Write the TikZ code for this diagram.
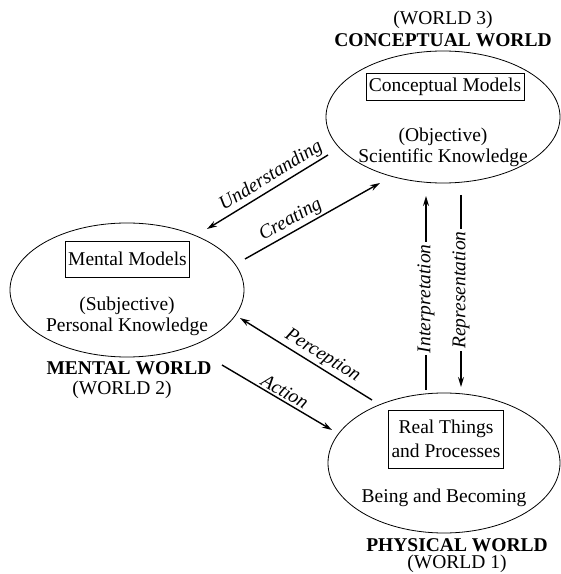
\documentclass[tikz,border=0pt]{standalone}
\usepackage{fontspec}
\setmainfont{Liberation Serif}
\usetikzlibrary{shapes.geometric,arrows.meta}
\begin{document}
\begin{tikzpicture}[x=1pt,y=1pt,
  every node/.style={font=\fontsize{19.5}{21}\selectfont},
  world/.style={draw,ellipse,line width=0.8pt,inner sep=0pt},
  modelbox/.style={draw,line width=0.7pt,inner xsep=3pt,inner ysep=3pt,align=center},
  plain/.style={align=center,inner sep=0pt},
  title/.style={font=\fontsize{19.5}{21}\selectfont\bfseries,inner sep=0pt},
  sub/.style={inner sep=0pt},
  link/.style={line width=1.4pt,-{Stealth[length=10pt,width=6pt]}},
  lab/.style={font=\fontsize{19.5}{21}\selectfont\itshape,sloped,above,inner sep=2pt},
  vlab/.style={font=\fontsize{19.5}{21}\selectfont\itshape,rotate=90,fill=white,inner xsep=2pt,inner ysep=0pt}]
\useasboundingbox (0,0) rectangle (561,574);
% worlds
\node[world,minimum width=234pt,minimum height=132pt] (cw) at (443,457) {};
\node[world,minimum width=234pt,minimum height=134pt] (mw) at (127,284) {};
\node[world,minimum width=232pt,minimum height=140pt] (pw) at (444,111) {};
% boxes
\node[modelbox,minimum height=27pt] (cm) at (445,487.5) {Conceptual Models};
\node[modelbox,minimum height=36pt] (mm) at (127.5,315) {Mental Models};
\node[modelbox,font=\fontsize{19.5}{24}\selectfont,minimum height=58pt] (rt) at (446,135) {Real Things\\and Processes};
% inner texts
\node[plain] (ck) at (443,427) {(Objective)\\Scientific Knowledge};
\node[plain] (pk) at (127,258) {(Subjective)\\Personal Knowledge};
\node[plain] (bb) at (444,76) {Being and Becoming};
% world titles
\node[sub] (w3) at (443,554) {(WORLD 3)};
\node[title] (t3) at (443,534) {CONCEPTUAL WORLD};
\node[title] (t2) at (129,206) {MENTAL WORLD};
\node[sub] (w2) at (122,184) {(WORLD 2)};
\node[title] (t1) at (457,29) {PHYSICAL WORLD};
\node[sub] (w1) at (457,10) {(WORLD 1)};
% connector end points
\coordinate (uS) at (328,419); \coordinate (uE) at (207,345);
\coordinate (cS) at (245,315); \coordinate (cE) at (380,391);
\coordinate (pS) at (372,174); \coordinate (pE) at (240,256);
\coordinate (aS) at (222,209); \coordinate (aE) at (332,144);
\coordinate (iS) at (426,184); \coordinate (iE) at (426,378);
\coordinate (rS) at (461,379); \coordinate (rE) at (461,187);
% connectors
\draw[link,{Stealth[length=10pt,width=6pt]}-] (uE) -- node[lab,pos=0.58] {Understanding} (uS);
\draw[link] (cS) -- node[lab,pos=0.38] {Creating} (cE);
\draw[link,{Stealth[length=10pt,width=6pt]}-] (pE) -- node[lab,pos=0.58] {Perception} (pS);
\draw[link] (aS) -- node[lab,pos=0.53] {Action} (aE);
\draw[link] (iS) -- node[vlab,pos=0.47] {Interpretation} (iE);
\draw[link] (rS) -- node[vlab,pos=0.495] {Representation} (rE);
\end{tikzpicture}
\end{document}
